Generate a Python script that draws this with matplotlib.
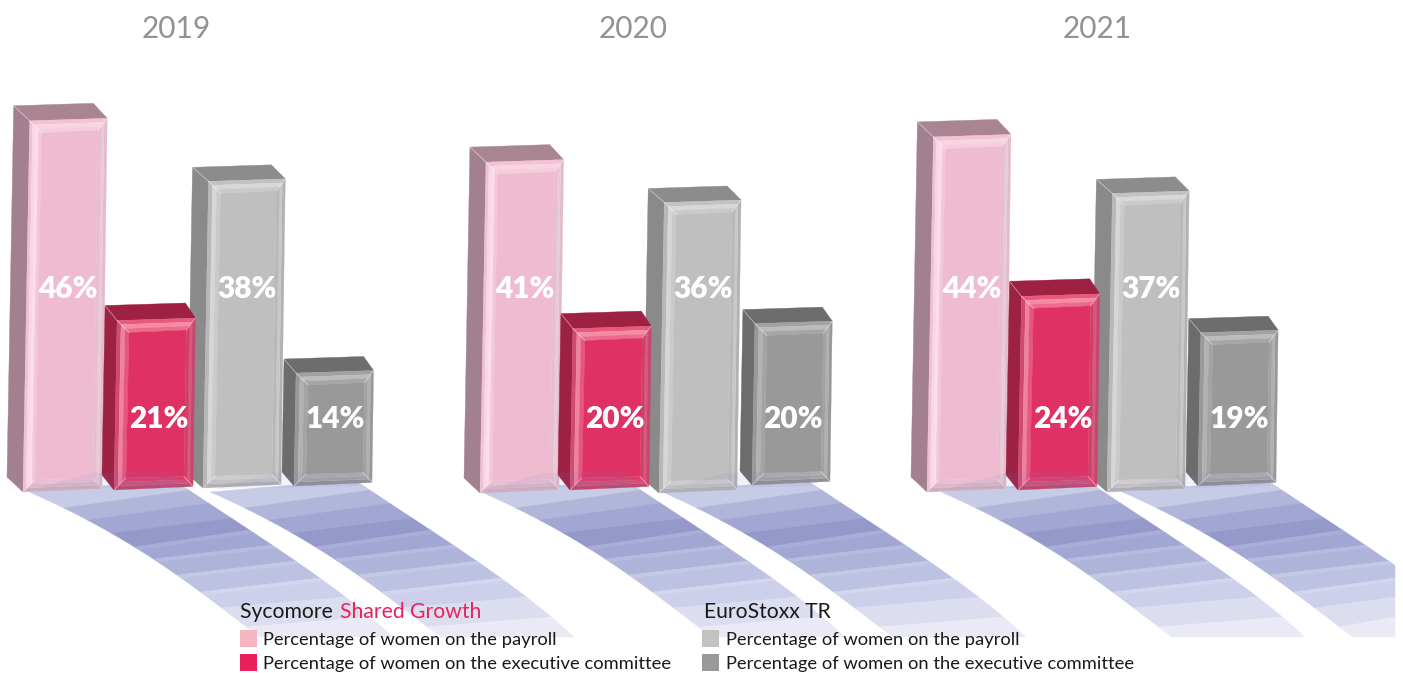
import numpy as np
import matplotlib
matplotlib.use("Agg")
import matplotlib.pyplot as plt
from matplotlib.patches import Polygon

# share of women, one list per series, one value per year
years = ["2019", "2020", "2021"]
fund_payroll = [46, 41, 44]
fund_exec = [21, 20, 24]
index_payroll = [38, 36, 37]
index_exec = [14, 20, 19]

legend_fund = "Sycomore "
legend_fund_hl = "Shared Growth"
legend_index = "EuroStoxx TR"
legend_payroll = "Percentage of women on the payroll"
legend_exec = "Percentage of women on the executive committee"

W, H = 1403, 673
PX_PER_PCT = 8.07
FONT = "Lato"

# front bottom-left corner of each bar, by series then by year
bar_x = {"pink": [23, 480, 927], "red": [114, 570, 1018], "grey": [203, 659, 1107], "dark": [294, 752, 1198]}
bar_y = {"pink": [492, 493, 492], "red": [490, 490, 490], "grey": [488, 493, 492], "dark": [486, 485, 486]}
bar_w = {"pink": 79, "red": 79, "grey": 78, "dark": 78}
depth = {"pink": (-16, -15), "red": (-12, -15), "grey": (-16, -14), "dark": (-12, -14)}
label_dx = {"pink": 45, "red": 45, "grey": 44, "dark": 41}
label_y = {"pink": 287, "red": 417, "grey": 287, "dark": 417}

# face, side, top, then bevel strips outer to inner (left, top, right, bottom)
styles = {
    "pink": dict(face="#efbbd0", side="#a38090", top="#a98594",
                 left=["#eec2d3", "#fad6e4", "#fbdde9", "#f3c6d8"],
                 upper=["#f3c3d5", "#f9d5e2", "#f6cddc"],
                 right=["#e2bccc", "#ecc9d8", "#e5bfcf"],
                 lower=["#d0adbe", "#dcb8c9", "#e9bfd1"]),
    "red": dict(face="#df3163", side="#9c2142", top="#9e2042",
                left=["#d04a72", "#ee829c", "#e6567e"],
                upper=["#e8587f", "#f68ca3", "#ee6b8c"],
                right=["#c8456c", "#d9587c", "#cf3f6b"],
                lower=["#bc4a70", "#cf4f77", "#dc3d6c"]),
    "grey": dict(face="#bfbfbf", side="#8a8a8a", top="#8c8c8b",
                 left=["#b8b8b8", "#d6d6d6", "#cacaca"],
                 upper=["#c2c2c2", "#d8d8d8", "#cacaca"],
                 right=["#b2b2b2", "#c8c8c8", "#b8b8b8"],
                 lower=["#b0b0b2", "#c2c2c4", "#cdcdcd"]),
    "dark": dict(face="#999999", side="#6c6c6c", top="#6e6d6b",
                 left=["#999999", "#b2b2b2", "#a4a4a4"],
                 upper=["#a2a2a2", "#bcbcbc", "#a6a6a6"],
                 right=["#989898", "#b0b0b0", "#a2a2a2"],
                 lower=["#909094", "#a4a4a8", "#adadad"]),
}

# shadow ribbon edges and stripes
left_y = [492, 508, 520, 533, 547, 559, 575, 592, 608, 627]
left_x = [28.6, 64, 89, 111, 132, 154, 177, 200, 223, 246]
right_y = [488, 530, 545, 561, 578, 597, 617, 637]
right_x = [186, 248, 273, 296, 320, 345, 370, 393]
stripe_left = [492, 508, 520, 533, 547, 559, 575, 592, 608, 627, 637]
stripe_right = [480, 490, 503, 518, 530, 545, 561, 578, 597, 617, 637]
stripe_col = ["#c6cbe6", "#b2b5da", "#a2a6d3", "#9499ca", "#a2a6d3", "#aeb3da", "#bdc1e2", "#ccd0ea", "#dcdef0", "#e9eaf6"]
stripe_sep = [None, None, None, None, "#a9add7", "#b7bbdf", "#c6c9e6", "#d3d6ed", None, None]
ribbon_dx = [0, 452, 912]
RIBBON_GAP = 181
CLIP_X = 1395

lp = np.polyfit(left_y, left_x, 3)
rp = np.polyfit(right_y, right_x, 3)


def ribbon(ax, dx):
    for i, c in enumerate(stripe_col):
        a, b = stripe_left[i], stripe_left[i + 1]
        c0, d = stripe_right[i], stripe_right[i + 1]
        yl = np.linspace(a, b, 12)
        yr = np.linspace(d, c0, 12)
        pts = np.r_[np.c_[np.polyval(lp, yl) + dx, yl], np.c_[np.polyval(rp, yr) + dx, yr]]
        pts[:, 0] = np.minimum(pts[:, 0], CLIP_X)
        ax.add_patch(Polygon(pts, closed=True, fc=c, ec=c, lw=0.3, zorder=1))
        if stripe_sep[i]:
            # thin lighter line along the top of the stripe
            yl3 = np.linspace(a, a + 3, 4)
            yr3 = np.linspace(c0 + 3, c0, 4)
            p2 = np.r_[np.c_[np.polyval(lp, yl3) + dx, yl3], np.c_[np.polyval(rp, yr3) + dx, yr3]]
            p2[:, 0] = np.minimum(p2[:, 0], CLIP_X)
            ax.add_patch(Polygon(p2, closed=True, fc=stripe_sep[i], ec="none", zorder=1.1))
    # the shadow also tints the foot of the bars
    foot = [(dx + 92, 473), (dx + 178, 471), (dx + 178, 486), (dx + 34, 489)]
    ax.add_patch(Polygon(foot, closed=True, fc="#7f86c4", ec="none", alpha=0.1, zorder=7))


def strips(ax, o0, o1, i0, i1, cols, z):
    # bevel side between outer edge o0-o1 and inner edge i0-i1
    n = len(cols)
    for k, c in enumerate(cols):
        t0, t1 = k / n, (k + 1) / n
        q = [o0 + (i0 - o0) * t0, o1 + (i1 - o1) * t0, o1 + (i1 - o1) * t1, o0 + (i0 - o0) * t1]
        ax.add_patch(Polygon(q, closed=True, fc=c, ec=c, lw=0.2, zorder=z))


def bar(ax, key, x0, y0, value, z):
    st = styles[key]
    w = bar_w[key]
    dx, dy = depth[key]
    h = value * PX_PER_PCT
    bl = np.array([x0, y0], float)
    br = np.array([x0 + w, y0 - 3.5], float)
    tl = np.array([x0 + 0.018 * h, y0 - h], float)
    tr = np.array([x0 + w + 0.014 * h, y0 - h - 2.5], float)
    back = np.array([dx, dy], float)

    ax.add_patch(Polygon([tl, tl + back, bl + back, bl], closed=True, fc=st["side"], ec=st["side"], lw=0.3, zorder=z))
    ax.add_patch(Polygon([tl, tl + back, tr + back + (2, 0), tr], closed=True, fc=st["top"], ec=st["top"], lw=0.3, zorder=z))

    itl = tl + (12, 12)
    itr = tr + (-9, 12)
    ibr = br + (-9, -10)
    ibl = bl + (12, -12)
    strips(ax, tl, bl, itl, ibl, st["left"], z + 0.1)
    strips(ax, tl, tr, itl, itr, st["upper"], z + 0.1)
    strips(ax, tr, br, itr, ibr, st["right"], z + 0.1)
    strips(ax, bl, br, ibl, ibr, st["lower"], z + 0.1)
    ax.add_patch(Polygon([itl, itr, ibr, ibl], closed=True, fc=st["face"], ec=st["face"], lw=0.2, zorder=z + 0.2))

    # hairlines on the mitres and the back corner
    for a, b in [(tl, itl), (tr, itr), (br, ibr), (bl, ibl), (tl, tl + back)]:
        ax.plot([a[0], b[0]], [a[1], b[1]], color="white", lw=0.5, alpha=0.55, zorder=z + 0.3)


fig = plt.figure(figsize=(W / 100, H / 100), dpi=100)
ax = fig.add_axes([0, 0, 1, 1])
ax.set_xlim(0, W)
ax.set_ylim(H, 0)
ax.axis("off")

for dx in ribbon_dx:
    ribbon(ax, dx)
    ribbon(ax, dx + RIBBON_GAP)

series = [("dark", index_exec, 2), ("grey", index_payroll, 3), ("pink", fund_payroll, 4), ("red", fund_exec, 5)]
for key, values, z in series:
    for j, v in enumerate(values):
        bar(ax, key, bar_x[key][j], bar_y[key][j], v, z)
        ax.text(bar_x[key][j] + label_dx[key], label_y[key] + 1.5, f"{v}%", color="white", fontsize=21.5,
                fontweight="heavy", family=FONT, ha="center", va="center", zorder=8)

for yr, cx in zip(years, [176, 633, 1097]):
    ax.text(cx, 28.5, yr, color="#929292", fontsize=21.5, family=FONT, ha="center", va="center")

# legend
t = ax.text(240, 612.5, legend_fund, color="#1a1a1a", fontsize=15.2, family=FONT, ha="left", va="center", zorder=9)
fig.canvas.draw()
tw = t.get_window_extent().width
ax.text(240 + tw + 2, 612.5, legend_fund_hl, color="#e8225f", fontsize=15.2, family=FONT, ha="left", va="center", zorder=9)
ax.text(704, 612.5, legend_index, color="#1a1a1a", fontsize=15.2, family=FONT, ha="left", va="center", zorder=9)

for sx, tx, cols in [(240, 263, ["#f7b5bf", "#ea1f5d"]), (702, 726, ["#c2c2c2", "#999999"])]:
    for sy, col, lab in zip([630, 654], cols, [legend_payroll, legend_exec]):
        ax.add_patch(plt.Rectangle((sx, sy), 17, 17, fc=col, ec="none", zorder=9))
        ax.text(tx, sy + 9.5, lab, color="#1a1a1a", fontsize=13.25, family=FONT, ha="left", va="center", zorder=9)

fig.savefig("out.png", dpi=100)
